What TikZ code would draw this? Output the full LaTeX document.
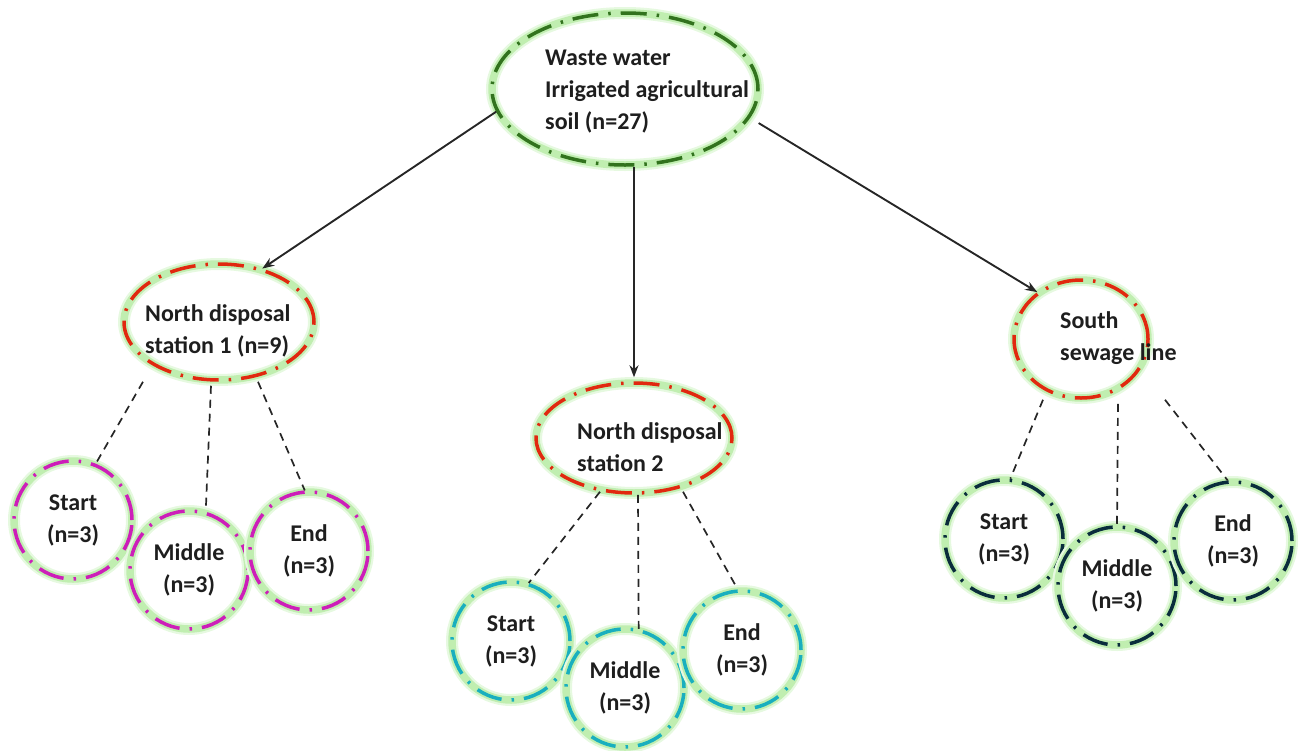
\documentclass[tikz,border=0pt]{standalone}
\usepackage{fontspec}
\setmainfont{Carlito}
\usetikzlibrary{arrows.meta,shapes.geometric}
\definecolor{cgreen}{RGB}{50,115,30}
\definecolor{cred}{RGB}{225,40,15}
\definecolor{cmag}{RGB}{205,30,185}
\definecolor{cteal}{RGB}{25,175,190}
\definecolor{cnavy}{RGB}{10,45,60}
\definecolor{glowc}{RGB}{192,238,176}
\definecolor{glowd}{RGB}{230,249,224}
\definecolor{txtc}{RGB}{30,30,30}
\tikzset{
  ddot/.style={dash pattern=on 26pt off 10pt on 2.5pt off 10pt},
  glowbox/.style={draw=#1, line width=3.5pt, ddot,
     preaction={draw=glowd, line width=12pt, solid},
     preaction={draw=glowc, line width=7.5pt, solid}},
  ellnode/.style={ellipse, inner sep=0pt, glowbox=#1},
  circnode/.style={circle, inner sep=0pt, minimum size=118pt, glowbox=#1,
     font=\fontsize{24}{32}\selectfont\bfseries, text=txtc, align=center},
  lbl/.style={font=\fontsize{24}{32}\selectfont\bfseries, text=txtc,
     align=left, anchor=west, inner sep=0pt},
  arr/.style={-{Stealth[length=12pt,width=9pt]}, line width=1.9pt, draw=black!85},
  dline/.style={dash pattern=on 8pt off 6pt, line width=1.7pt, draw=black!85},
}
\begin{document}
\begin{tikzpicture}[x=1pt,y=-1pt]
\useasboundingbox (0,0) rectangle (1306,750);

% main nodes
\node[ellnode=cgreen, minimum width=266pt, minimum height=152pt] (top) at (625,89) {};
\node[lbl] (topT) at (545,92) {Waste water\\Irrigated agricultural\\soil (n=27)};

\node[ellnode=cred, minimum width=190pt, minimum height=116pt] (st1) at (219,322) {};
\node[lbl] (st1T) at (145,331) {North disposal\\station 1 (n=9)};

\node[ellnode=cred, minimum width=196pt, minimum height=110pt] (st2) at (634,438) {};
\node[lbl] (st2T) at (577,447) {North disposal\\station 2};

\node[ellnode=cred, minimum width=134pt, minimum height=118pt] (so) at (1081,339) {};
\node[lbl] (soT) at (1060,338) {South\\sewage line};

% small circles
\node[circnode=cmag] (s1a) at (73,520) {Start\\(n=3)};
\node[circnode=cmag] (s1b) at (189,570) {Middle\\(n=3)};
\node[circnode=cmag] (s1c) at (309,551) {End\\(n=3)};

\node[circnode=cteal] (s2a) at (511,641) {Start\\(n=3)};
\node[circnode=cteal] (s2b) at (625,688) {Middle\\(n=3)};
\node[circnode=cteal] (s2c) at (742,650) {End\\(n=3)};

\node[circnode=cnavy] (s3a) at (1004,539) {Start\\(n=3)};
\node[circnode=cnavy] (s3b) at (1117,586) {Middle\\(n=3)};
\node[circnode=cnavy] (s3c) at (1233,541) {End\\(n=3)};

% arrows
\draw[arr] (top.190) -- (st1.51);
\draw[arr, shorten >=4pt] (st2.north |- top.south) -- (st2.north);
\draw[arr, shorten <=10pt] (top.-13) -- (so.133);

% dashed links
\draw[dline] ([xshift=-76pt]st1.south) -- (s1a.68);
\draw[dline] ([xshift=-8pt,yshift=-4pt]st1.south) -- (s1b.74);
\draw[dline] ([xshift=39pt]st1.south) -- (s1c.94);

\draw[dline] ([xshift=-34pt,yshift=3pt]st2.south) -- (s2a.73);
\draw[dline] ([xshift=4pt]st2.south) -- (s2b.77);
\draw[dline] ([xshift=49pt,yshift=3pt]st2.south) -- (s2c.94);

\draw[dline] ([xshift=-38pt]so.south) -- (s3a.84);
\draw[dline] ([xshift=37pt,yshift=-4pt]so.south) -- (s3b.north);
\draw[dline] ([xshift=84pt]so.south) -- (s3c.95);
\end{tikzpicture}
\end{document}
